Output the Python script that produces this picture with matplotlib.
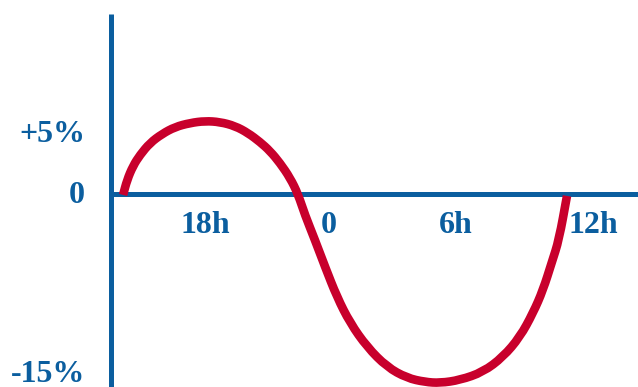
import numpy as np
import matplotlib.pyplot as plt
from matplotlib.path import Path
from matplotlib.patches import PathPatch

# ── data (hours on x, % change on y) ─────────────────────────────────────────
HOURS = [14.04, 14.23, 14.51, 14.84, 15.31, 15.88, 16.49, 17.20, 17.91, 18.61,
         19.32, 19.93, 20.50, 20.97, 21.44, 21.92, 22.29, 22.62, 23.09, 23.57,
         24.13, 24.75, 25.55, 26.49, 27.43, 28.28, 28.99, 29.93, 31.02, 31.96,
         32.76, 33.38, 33.85, 34.27, 34.60, 34.98]
CHANGE = [-0.08, 1.15, 2.30, 3.20, 4.18, 4.92, 5.49, 5.82, 5.98, 5.90,
          5.57, 5.00, 4.26, 3.52, 2.54, 1.31, 0.00, -1.72, -3.77, -5.98,
          -8.44, -10.57, -12.54, -14.18, -15.08, -15.41, -15.49, -15.25, -14.59, -13.36,
          -11.72, -9.75, -7.87, -5.57, -3.77, -0.16]

X_TICKS = [17.91, 23.75, 29.75, 36.21]
X_LABELS = ['18h', '0', '6h', '12h']
Y_TICKS = [5, 0, -15]
Y_LABELS = ['+5%', '0', '-15%']

BLUE = '#0b5e9f'
RED = '#c8002c'
FONT = dict(family='Liberation Serif', weight='bold', size=23, color=BLUE)

fig = plt.figure(figsize=(6.38, 3.87), dpi=100)
ax = fig.add_axes([111 / 638, 0, 1 - 111 / 638, (387 - 14) / 387])
ax.set_xlim(13.47, 38.33)
ax.set_ylim(-15.82, 14.75)

# smooth stroke: read points act as quadratic control points, midpoints as anchors
pts = np.column_stack([HOURS, CHANGE])
verts = [pts[0], (pts[0] + pts[1]) / 2]
codes = [Path.MOVETO, Path.LINETO]
for i in range(1, len(pts) - 1):
    verts += [pts[i], (pts[i] + pts[i + 1]) / 2]
    codes += [Path.CURVE3, Path.CURVE3]
verts.append(pts[-1])
codes.append(Path.LINETO)
ax.add_patch(PathPatch(Path(verts, codes), fill=False, edgecolor=RED,
                       lw=6.2, capstyle='butt', joinstyle='round', zorder=3))

for side in ['top', 'right']:
    ax.spines[side].set_visible(False)
ax.spines['bottom'].set_position(('data', 0))
for side in ['left', 'bottom']:
    ax.spines[side].set_color(BLUE)
    ax.spines[side].set_linewidth(3.6)
    ax.spines[side].set_capstyle('butt')
    ax.spines[side].set_zorder(2)
ax.set_xticks([])
ax.set_yticks([])

for x, s in zip(X_TICKS, X_LABELS):
    ax.text(x, -3.2, s, ha='center', va='baseline', **FONT)
for y, s in zip(Y_TICKS, Y_LABELS):
    ax.text(12.25, y - 0.7 if y > -15 else y - 0.45, s, ha='right',
            va='baseline', clip_on=False, **FONT)

fig.savefig('out.png', dpi=100)
